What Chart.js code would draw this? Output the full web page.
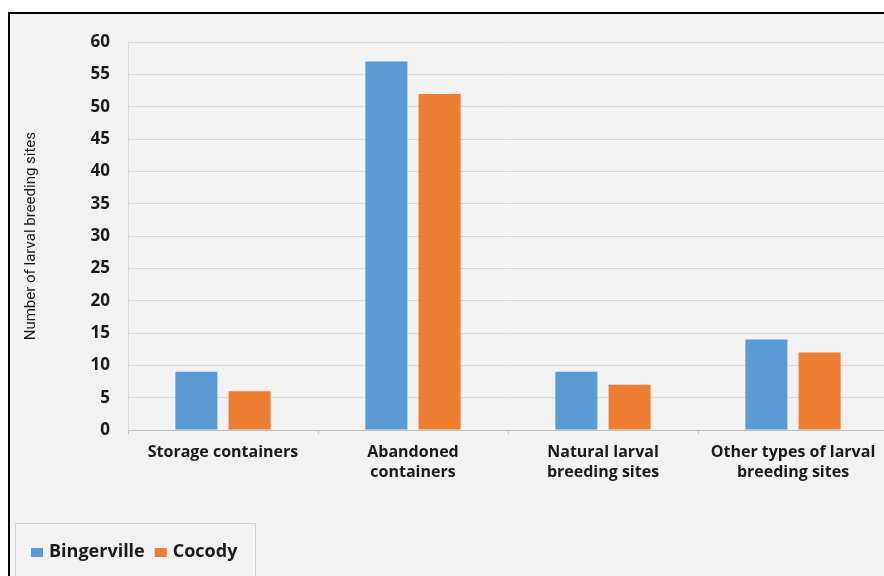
<!DOCTYPE html>
<html>
<head>
<meta charset="utf-8">
<script src="https://cdn.jsdelivr.net/npm/chart.js@4/dist/chart.umd.min.js"></script>
<style>
  html, body { margin: 0; padding: 0; background: #ffffff; overflow: hidden; width: 884px; height: 576px; }
  #frame {
    position: absolute; left: 8px; top: 12px;
    width: 900px; height: 580px;
    border-top: 2px solid #000; border-left: 2px solid #000;
    background: #f2f2f2;
  }
  #c { position: absolute; left: 0; top: 0; }
</style>
</head>
<body>
<div id="frame"><canvas id="c" width="878" height="562"></canvas></div>
<script>
// Breeding-site categories (multi-line labels) and counts per commune
const categories = [
  ["Storage containers"],
  ["Abandoned", "containers"],
  ["Natural larval", "breeding sites"],
  ["Other types of larval", "breeding sites"]
];
const bingerville = [9, 57, 9, 14];
const cocody = [6, 52, 7, 12];
const seriesNames = ["Bingerville", "Cocody"];
const seriesColors = ["#5b9bd5", "#ed7d31"];
const yTicks = [0, 5, 10, 15, 20, 25, 30, 35, 40, 45, 50, 55, 60];

const FONT = "'Open Sans', Lato, sans-serif";

// Legend drawn in a framed box at the lower left
const boxedLegend = {
  id: 'boxedLegend',
  afterDraw(chart) {
    const ctx = chart.ctx;
    ctx.save();
    ctx.strokeStyle = '#d0d0d0';
    ctx.lineWidth = 1;
    ctx.strokeRect(5.5, 509.5, 240, 70);
    ctx.font = "bold 18px " + FONT;
    ctx.textBaseline = 'middle';
    let x = 21;
    const cy = 538;
    chart.data.datasets.forEach(ds => {
      ctx.fillStyle = ds.backgroundColor;
      ctx.fillRect(x, cy - 4, 12, 9);
      x += 18;
      ctx.fillStyle = '#1a1a1a';
      ctx.fillText(ds.label, x, cy);
      x += ctx.measureText(ds.label).width + 10;
    });
    ctx.restore();
  }
};

new Chart(document.getElementById('c'), {
  type: 'bar',
  data: {
    labels: categories,
    datasets: [
      { label: seriesNames[0], data: bingerville, backgroundColor: seriesColors[0] },
      { label: seriesNames[1], data: cocody, backgroundColor: seriesColors[1] }
    ]
  },
  options: {
    responsive: false,
    animation: false,
    layout: { padding: { top: 14, left: 0, right: 0, bottom: 0 } },
    datasets: { bar: { categoryPercentage: 0.56, barPercentage: 0.79 } },
    plugins: {
      legend: { display: false },
      tooltip: { enabled: false }
    },
    scales: {
      x: {
        offset: true,
        grid: { display: true, offset: true, drawOnChartArea: false, drawTicks: true, tickLength: 4, color: '#bfbfbf' },
        border: { display: true, color: '#bfbfbf', width: 1 },
        ticks: {
          color: '#1a1a1a',
          font: { family: FONT, size: 16, weight: 'bold', lineHeight: 1.25 },
          padding: 8,
          maxRotation: 0,
          autoSkip: false
        },
        afterFit(scale) { scale.height = 146; }
      },
      y: {
        min: 0, max: 60,
        afterBuildTicks(scale) { scale.ticks = yTicks.map(v => ({ value: v })); },
        grid: { color: '#d9d9d9', drawTicks: false },
        border: { display: true, color: '#d9d9d9' },
        ticks: {
          color: '#1a1a1a',
          font: { family: FONT, size: 17, weight: 'bold' },
          padding: 18
        },
        title: {
          display: true,
          text: 'Number of larval breeding sites',
          color: '#1a1a1a',
          font: { family: "'Liberation Sans Narrow', Roboto, sans-serif", size: 15 },
          padding: { top: 12, bottom: 0 }
        },
        afterFit(scale) { scale.width = 118; }
      }
    }
  },
  plugins: [boxedLegend]
});
</script>
</body>
</html>
